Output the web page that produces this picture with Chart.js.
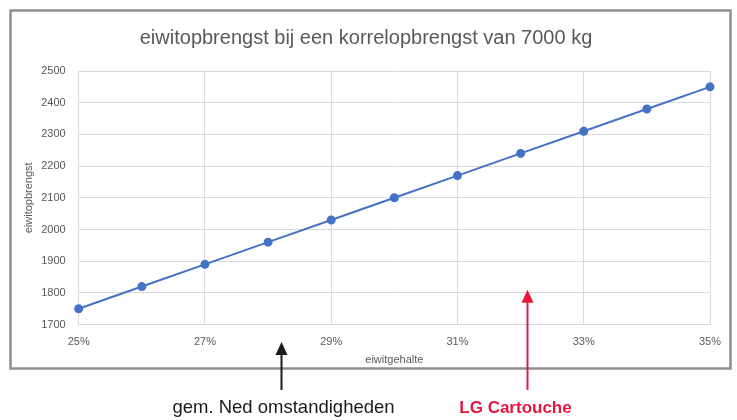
<!DOCTYPE html>
<html>
<head>
<meta charset="utf-8">
<script src="https://cdn.jsdelivr.net/npm/chart.js@4"></script>
<style>
  html, body { margin: 0; padding: 0; background: #fff; }
  #wrap { width: 737px; height: 420px; }
</style>
</head>
<body>
<div id="wrap"><canvas id="chart" width="737" height="420"></canvas></div>
<script>
// eiwitgehalte (%) and eiwitopbrengst (kg)
const eiwitgehalte = [25, 26, 27, 28, 29, 30, 31, 32, 33, 34, 35];
const eiwitopbrengst = [1750, 1820, 1890, 1960, 2030, 2100, 2170, 2240, 2310, 2380, 2450];

// arrows under the chart: x position (%), top of arrow (kg, null = below axis), label
const arrowX = [28.2, 32.1];
const arrowTop = [null, 1810];
const arrowLabels = ['gem. Ned omstandigheden', 'LG Cartouche'];
const arrowColors = ['#1a1a1a', '#e5173f'];

const FONT = '"Liberation Sans", "DejaVu Sans", sans-serif';
const ctx = document.getElementById('chart').getContext('2d');

// frame + arrows + captions
const labelShift = [2, -12];
const extras = {
  id: 'extras',
  afterDraw(chart) {
    const c = chart.ctx;
    const xs = chart.scales.x;
    const ys = chart.scales.y;
    c.save();
    c.strokeStyle = '#8f8f8f';
    c.lineWidth = 2.5;
    c.strokeRect(10.5, 10.5, 720, 358);

    arrowX.forEach((v, i) => {
      const x = Math.round(xs.getPixelForValue(v)) + 0.5;
      const top = arrowTop[i] === null ? 342 : ys.getPixelForValue(arrowTop[i]);
      const bottom = 390;
      c.strokeStyle = arrowColors[i];
      c.fillStyle = arrowColors[i];
      c.lineWidth = 2;
      c.beginPath();
      c.moveTo(x, top + 10);
      c.lineTo(x, bottom);
      c.stroke();
      c.beginPath();
      c.moveTo(x, top);
      c.lineTo(x - 6, top + 13);
      c.lineTo(x + 6, top + 13);
      c.closePath();
      c.fill();

      c.font = (i === 1 ? 'bold 17px ' : '18.5px ') + FONT;
      c.textAlign = 'center';
      c.textBaseline = 'middle';
      c.fillText(arrowLabels[i], x + labelShift[i], 408);
    });
    c.restore();
  }
};

const chart = new Chart(ctx, {
  type: 'line',
  data: {
    datasets: [{
      label: 'eiwitopbrengst',
      data: eiwitgehalte.map((x, i) => ({ x: x, y: eiwitopbrengst[i] })),
      borderColor: '#4472c4',
      backgroundColor: '#4472c4',
      borderWidth: 2,
      pointRadius: 3.5,
      pointHoverRadius: 3.5,
      tension: 0,
      clip: false
    }]
  },
  options: {
    responsive: false,
    animation: false,
    devicePixelRatio: 1,
    layout: { padding: { left: 22, right: 27, top: 14, bottom: 53 } },
    plugins: {
      legend: { display: false },
      tooltip: { enabled: false },
      title: {
        display: true,
        text: 'eiwitopbrengst bij een korrelopbrengst van 7000 kg',
        color: '#595959',
        font: { family: FONT, size: 20, weight: 'normal' },
        padding: { top: 12, bottom: 21 }
      }
    },
    scales: {
      x: {
        type: 'linear',
        min: 25,
        max: 35,
        grid: { color: '#d9d9d9', drawTicks: false },
        border: { color: '#d9d9d9' },
        ticks: {
          stepSize: 2,
          padding: 11,
          color: '#595959',
          font: { family: FONT, size: 11 },
          callback: v => v + '%'
        },
        title: {
          display: true,
          text: 'eiwitgehalte',
          color: '#595959',
          font: { family: FONT, size: 11 },
          padding: { top: -6, bottom: 0 }
        }
      },
      y: {
        min: 1700,
        max: 2500,
        grid: { color: '#d9d9d9', drawTicks: false },
        border: { display: false },
        ticks: {
          stepSize: 100,
          padding: 13,
          color: '#595959',
          font: { family: FONT, size: 11 },
          callback: v => String(v)
        },
        title: {
          display: true,
          text: 'eiwitopbrengst',
          color: '#595959',
          font: { family: FONT, size: 11 },
          padding: { top: 0, bottom: -7 }
        }
      }
    }
  },
  plugins: [extras]
});
</script>
</body>
</html>
